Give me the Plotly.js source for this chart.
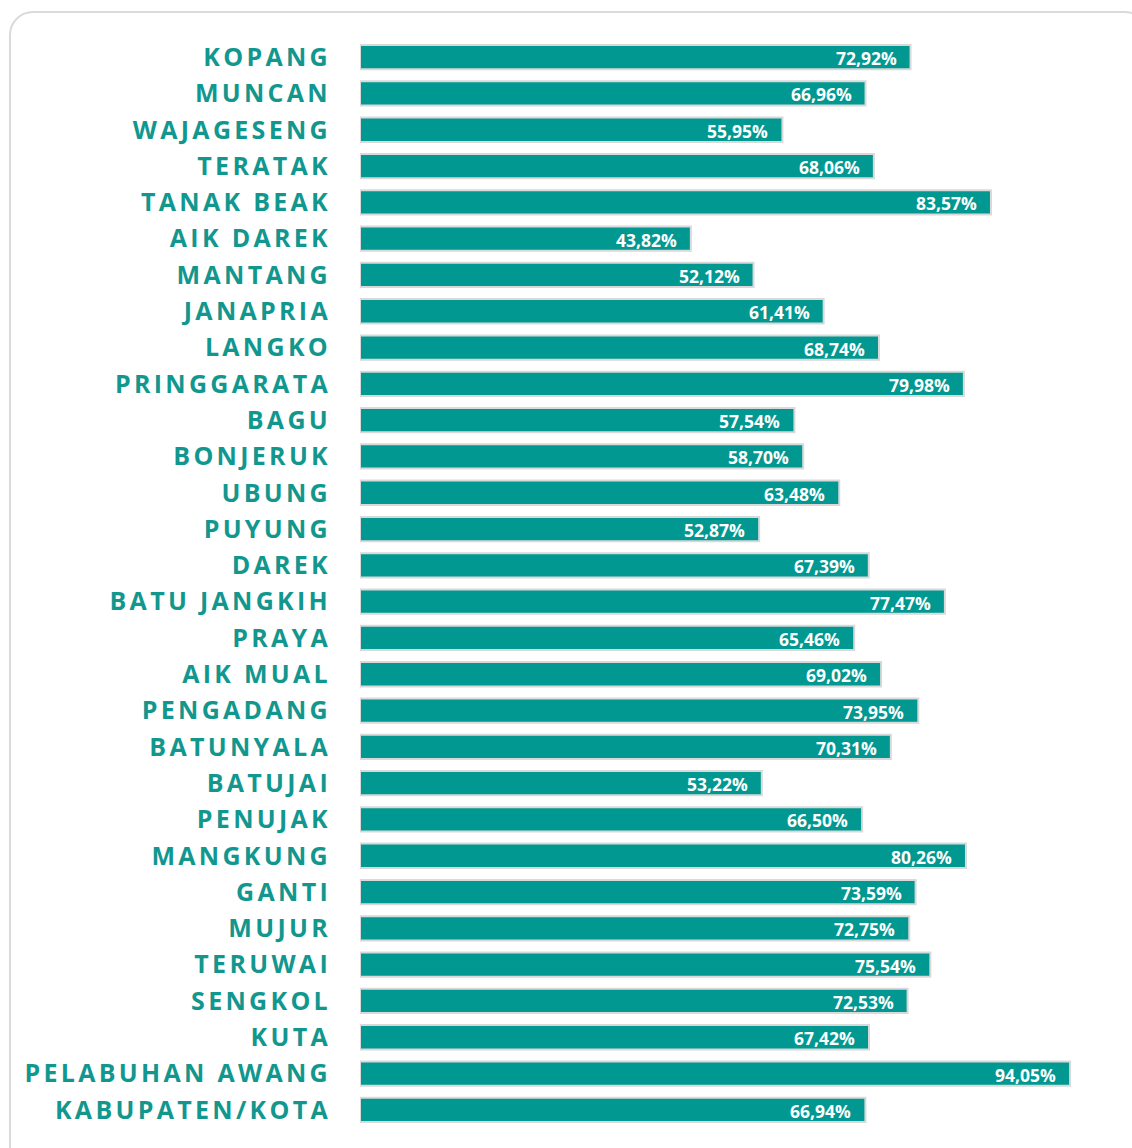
<!DOCTYPE html>
<html>
<head>
<meta charset="utf-8">
<script src="https://cdn.plot.ly/plotly-3.0.1.min.js"></script>
<style>
  html, body { margin: 0; padding: 0; background: #ffffff; overflow: hidden; }
  #frame { position: absolute; left: 9px; top: 11px; width: 1140px; height: 1160px;
           border: 2px solid #dadada; border-radius: 24px; box-sizing: border-box; }
  #chart { position: absolute; left: 0; top: 0; width: 1132px; height: 1148px; }
  #chart .ytick text { letter-spacing: 3.3px; }
</style>
</head>
<body>
<div id="frame"></div>
<div id="chart"></div>
<script>
const categories = [
  "KOPANG", "MUNCAN", "WAJAGESENG", "TERATAK", "TANAK BEAK", "AIK DAREK",
  "MANTANG", "JANAPRIA", "LANGKO", "PRINGGARATA", "BAGU", "BONJERUK",
  "UBUNG", "PUYUNG", "DAREK", "BATU JANGKIH", "PRAYA", "AIK MUAL",
  "PENGADANG", "BATUNYALA", "BATUJAI", "PENUJAK", "MANGKUNG", "GANTI",
  "MUJUR", "TERUWAI", "SENGKOL", "KUTA", "PELABUHAN AWANG", "KABUPATEN/KOTA"
];
const values = [
  72.92, 66.96, 55.95, 68.06, 83.57, 43.82,
  52.12, 61.41, 68.74, 79.98, 57.54, 58.70,
  63.48, 52.87, 67.39, 77.47, 65.46, 69.02,
  73.95, 70.31, 53.22, 66.50, 80.26, 73.59,
  72.75, 75.54, 72.53, 67.42, 94.05, 66.94
];

const barColor = "#009891";
const labelColor = "#12978f";

const fmt = v => v.toFixed(2).replace(".", ",") + "%";

const trace = {
  type: "bar",
  orientation: "h",
  x: values,
  y: categories,
  marker: { color: barColor, line: { color: "#d9d9d9", width: 2 } },
  hoverinfo: "none"
};

const annotations = values.map((v, i) => ({
  x: v, y: categories[i], xref: "x", yref: "y",
  text: "<b>" + fmt(v) + "</b>",
  showarrow: false, xanchor: "right", xshift: -12, yshift: -1,
  font: { family: "Open Sans, sans-serif", size: 17.5, color: "#ffffff" }
}));

const layout = {
  width: 1132, height: 1148,
  margin: { l: 360, r: 17, t: 39, b: 20 },
  paper_bgcolor: "rgba(0,0,0,0)",
  plot_bgcolor: "rgba(0,0,0,0)",
  showlegend: false,
  bargap: 0.33,
  xaxis: { range: [0, 100], visible: false, fixedrange: true },
  yaxis: {
    autorange: "reversed",
    showgrid: false, zeroline: false, showline: false,
    ticks: "", ticklabelstandoff: 28,
    tickfont: { family: "Open Sans, sans-serif", size: 25, color: labelColor, weight: "bold" }
  },
  annotations: annotations
};

Plotly.newPlot("chart", [trace], layout, { displayModeBar: false, staticPlot: true });
</script>
</body>
</html>
